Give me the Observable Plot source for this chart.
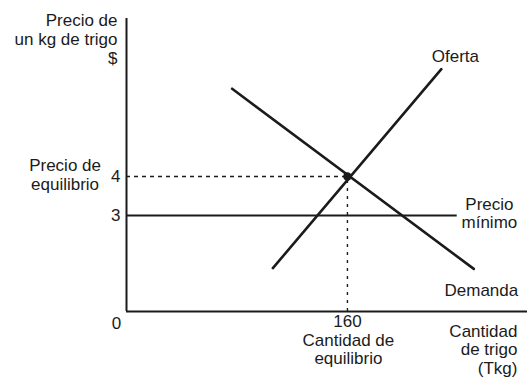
<!DOCTYPE html>
<html>
<head>
<meta charset="utf-8">
<script src="https://cdn.jsdelivr.net/npm/d3@7"></script>
<script src="https://cdn.jsdelivr.net/npm/@observablehq/plot@0.6"></script>
<style>
  html, body { margin: 0; padding: 0; background: #fff; }
</style>
</head>
<body>
<div id="chart"></div>
<script>
// Data (quantity in Tkg, price in $)
const supplyQ = [106, 228];
const supplyP = [1.65, 6.75];
const demandQ = [76.5, 251.5];
const demandP = [6.25, 1.63];
const equilibriumQ = 160;
const equilibriumP = 4;
const floorPrice = 3;
const floorEndQ = 239.5;
const priceTicks = [3, 4];
const quantityTicks = [160];

const supply = supplyQ.map((q, i) => ({q, p: supplyP[i]}));
const demand = demandQ.map((q, i) => ({q, p: demandP[i]}));

const yMin = 0.538, yMax = 8.05;
const ink = "#1b1b1b";
const font = "Liberation Sans, Arial, Helvetica, sans-serif";

const labels = [
  {q: 238.2, p: 7.08, text: "Oferta", anchor: "middle", lh: 1.1},
  {q: 262.8, p: 3.05, text: "Precio\nmínimo", anchor: "middle", lh: 1.06},
  {q: 257.0, p: 1.077, text: "Demanda", anchor: "middle", lh: 1.1},
  {q: 160.7, p: -0.436, text: "Cantidad de\nequilibrio", anchor: "middle", lh: 1.06},
  {q: 283.1, p: -0.436, text: "Cantidad\nde trigo\n(Tkg)", anchor: "end", lh: 1.1},
  {q: -7.24, p: 0.231, text: "0", anchor: "middle", lh: 1.1},
  {q: -6.5, p: 7.53, text: "Precio de\nun kg de trigo\n$", anchor: "end", lh: 1.14},
  {q: -44.5, p: 4.05, text: "Precio de\nequilibrio", anchor: "middle", lh: 1.12}
];

const chart = Plot.plot({
  width: 527,
  height: 377,
  marginLeft: 126,
  marginRight: 0,
  marginTop: 18,
  marginBottom: 66,
  x: {domain: [0, 290.4]},
  y: {domain: [yMin, yMax]},
  style: {background: "#fff", fontFamily: font, fontSize: "17px", color: ink},
  marks: [
    // dashed equilibrium guides
    Plot.ruleY([equilibriumP], {x1: 0, x2: equilibriumQ, stroke: ink, strokeWidth: 1.4, strokeDasharray: "4,4"}),
    Plot.ruleX([equilibriumQ], {y1: yMin, y2: equilibriumP, stroke: ink, strokeWidth: 1.4, strokeDasharray: "3,5"}),
    // price floor
    Plot.ruleY([floorPrice], {x1: 0, x2: floorEndQ, stroke: ink, strokeWidth: 2}),
    // supply & demand
    Plot.line(supply, {x: "q", y: "p", stroke: ink, strokeWidth: 2.6}),
    Plot.line(demand, {x: "q", y: "p", stroke: ink, strokeWidth: 2.6}),
    // axes lines
    Plot.ruleX([0], {stroke: ink, strokeWidth: 2}),
    Plot.ruleY([yMin], {stroke: ink, strokeWidth: 2}),
    // equilibrium point
    Plot.dot([{q: equilibriumQ, p: equilibriumP}], {x: "q", y: "p", r: 3.5, fill: ink, stroke: ink}),
    // tick labels
    Plot.axisY({ticks: priceTicks, tickSize: 0, tickPadding: 6, label: null, fontSize: 17, fill: ink}),
    Plot.axisX({ticks: quantityTicks, tickSize: 0, tickPadding: 3, label: null, fontSize: 17, fill: ink}),
    // labels
    ...labels.map(d => Plot.text([d], {
      x: "q", y: "p", text: "text", textAnchor: d.anchor, lineAnchor: "middle",
      lineHeight: d.lh, fontSize: 17, fill: ink, fontFamily: font
    }))
  ]
});

document.getElementById("chart").appendChild(chart);
</script>
</body>
</html>
